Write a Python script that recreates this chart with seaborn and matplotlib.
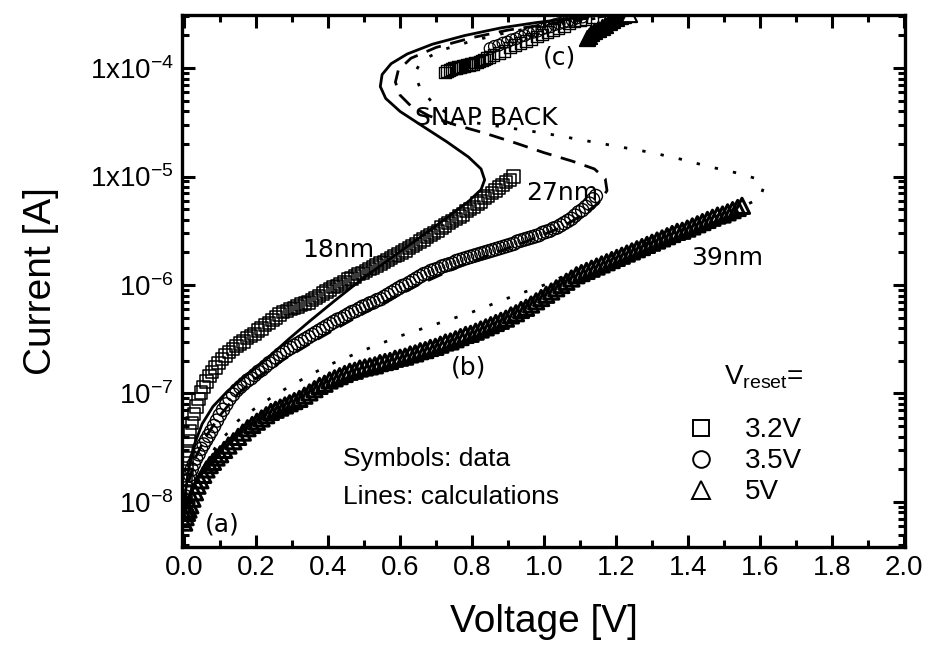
import numpy as np
import matplotlib
matplotlib.use("Agg")
import matplotlib.pyplot as plt
import seaborn as sns
from matplotlib.lines import Line2D
from matplotlib.ticker import LogLocator, FuncFormatter, MultipleLocator, NullFormatter

# ---------------- data (voltage in V, current given as log10 of A) ----------------
# 18 nm cell, V_reset = 3.2 V (squares), low-current branch
sq_v = [0.002, 0.004, 0.006, 0.008, 0.010, 0.013, 0.017, 0.022, 0.028, 0.034, 0.040, 0.047,
        0.054, 0.062, 0.070, 0.078, 0.087, 0.096, 0.105, 0.115, 0.125, 0.135, 0.145, 0.155,
        0.165, 0.175, 0.185, 0.195, 0.205, 0.215, 0.225, 0.235, 0.245, 0.255, 0.265, 0.275,
        0.285, 0.295, 0.305, 0.315, 0.325, 0.335, 0.345, 0.355, 0.365, 0.375, 0.385, 0.395,
        0.405, 0.415, 0.425, 0.435, 0.445, 0.455, 0.465, 0.475, 0.485, 0.495, 0.505, 0.515,
        0.525, 0.535, 0.545, 0.555, 0.565, 0.575, 0.585, 0.595, 0.605, 0.615, 0.625, 0.635,
        0.645, 0.655, 0.665, 0.675, 0.685, 0.695, 0.705, 0.715, 0.725, 0.735, 0.745, 0.755,
        0.765, 0.775, 0.785, 0.795, 0.805, 0.815, 0.825, 0.835, 0.845, 0.855, 0.865, 0.875,
        0.885, 0.895, 0.905, 0.915]
sq_log = [-7.90, -7.80, -7.69, -7.60, -7.53, -7.44, -7.35, -7.27, -7.19, -7.12, -7.05, -6.99,
          -6.94, -6.89, -6.84, -6.80, -6.76, -6.72, -6.68, -6.65, -6.62, -6.59, -6.56, -6.54,
          -6.52, -6.49, -6.47, -6.45, -6.42, -6.40, -6.37, -6.35, -6.32, -6.30, -6.27, -6.25,
          -6.24, -6.22, -6.21, -6.20, -6.18, -6.17, -6.16, -6.14, -6.12, -6.10, -6.08, -6.06,
          -6.04, -6.02, -6.01, -5.99, -5.97, -5.95, -5.94, -5.92, -5.90, -5.89, -5.87, -5.85,
          -5.84, -5.82, -5.80, -5.79, -5.77, -5.75, -5.73, -5.72, -5.70, -5.68, -5.66, -5.64,
          -5.62, -5.60, -5.58, -5.56, -5.54, -5.52, -5.50, -5.47, -5.45, -5.43, -5.41, -5.39,
          -5.37, -5.35, -5.32, -5.30, -5.28, -5.25, -5.23, -5.20, -5.18, -5.15, -5.13, -5.10,
          -5.08, -5.05, -5.03, -5.00]
# squares, high-current branch (c)
sqc_v = [0.725, 0.731, 0.737, 0.743, 0.749, 0.755, 0.761, 0.767, 0.773, 0.779, 0.785, 0.791,
         0.797, 0.803, 0.809, 0.815, 0.821, 0.827, 0.833, 0.840, 0.848, 0.860, 0.875, 0.890,
         0.905, 0.920, 0.935, 0.950, 0.965, 0.980, 0.995, 1.010, 1.025, 1.040, 1.055, 1.070,
         1.085, 1.100, 1.115, 1.135]
sqc_log = [-4.04, -4.03, -4.02, -4.01, -4.00, -4.00, -3.99, -3.99, -3.98, -3.98, -3.97, -3.97,
           -3.96, -3.96, -3.95, -3.95, -3.94, -3.93, -3.92, -3.91, -3.90, -3.88, -3.86, -3.84,
           -3.81, -3.79, -3.77, -3.75, -3.73, -3.71, -3.69, -3.67, -3.65, -3.63, -3.61, -3.59,
           -3.57, -3.56, -3.55, -3.53]

# 27 nm cell, V_reset = 3.5 V (circles)
ci_v = [0.000, 0.004, 0.008, 0.012, 0.016, 0.021, 0.027, 0.033, 0.040, 0.047, 0.054, 0.061,
        0.068, 0.075, 0.083, 0.091, 0.099, 0.108, 0.117, 0.126, 0.136, 0.146, 0.156, 0.166,
        0.176, 0.186, 0.196, 0.206, 0.216, 0.226, 0.236, 0.246, 0.256, 0.266, 0.276, 0.286,
        0.296, 0.306, 0.316, 0.326, 0.336, 0.346, 0.356, 0.366, 0.376, 0.386, 0.396, 0.406,
        0.416, 0.426, 0.436, 0.446, 0.456, 0.466, 0.476, 0.486, 0.496, 0.506, 0.516, 0.526,
        0.536, 0.546, 0.556, 0.566, 0.576, 0.586, 0.596, 0.606, 0.616, 0.626, 0.636, 0.646,
        0.656, 0.666, 0.676, 0.686, 0.696, 0.706, 0.716, 0.726, 0.736, 0.746, 0.756, 0.766,
        0.776, 0.786, 0.796, 0.806, 0.816, 0.826, 0.836, 0.846, 0.856, 0.866, 0.876, 0.886,
        0.896, 0.906, 0.916, 0.926, 0.936, 0.946, 0.956, 0.966, 0.976, 0.986, 0.996, 1.006,
        1.016, 1.026, 1.036, 1.046, 1.056, 1.066, 1.076, 1.086, 1.096, 1.106, 1.116, 1.126,
        1.136, 1.144]
ci_log = [-8.05, -7.95, -7.87, -7.80, -7.75, -7.70, -7.65, -7.60, -7.56, -7.51, -7.47, -7.43,
          -7.39, -7.35, -7.30, -7.25, -7.20, -7.15, -7.10, -7.05, -7.01, -6.97, -6.94, -6.91,
          -6.88, -6.86, -6.83, -6.80, -6.78, -6.75, -6.72, -6.70, -6.67, -6.64, -6.62, -6.60,
          -6.58, -6.56, -6.54, -6.52, -6.50, -6.48, -6.46, -6.44, -6.42, -6.40, -6.38, -6.36,
          -6.34, -6.32, -6.31, -6.29, -6.27, -6.25, -6.24, -6.22, -6.20, -6.19, -6.17, -6.16,
          -6.14, -6.13, -6.11, -6.09, -6.07, -6.05, -6.03, -6.01, -6.00, -5.98, -5.96, -5.94,
          -5.92, -5.90, -5.89, -5.87, -5.86, -5.85, -5.83, -5.82, -5.81, -5.80, -5.78, -5.77,
          -5.76, -5.75, -5.74, -5.73, -5.72, -5.71, -5.70, -5.69, -5.68, -5.67, -5.66, -5.65,
          -5.64, -5.63, -5.62, -5.60, -5.59, -5.58, -5.57, -5.56, -5.55, -5.54, -5.52, -5.51,
          -5.50, -5.48, -5.47, -5.45, -5.43, -5.41, -5.39, -5.36, -5.33, -5.31, -5.28, -5.25,
          -5.21, -5.18]
cic_v = [0.850, 0.862, 0.874, 0.886, 0.898, 0.910, 0.922, 0.934, 0.946, 0.958, 0.970, 0.982,
         0.994, 1.006, 1.018, 1.030, 1.042, 1.054, 1.066, 1.078, 1.090, 1.107]
cic_log = [-3.82, -3.80, -3.79, -3.77, -3.76, -3.74, -3.73, -3.71, -3.70, -3.68, -3.67, -3.66,
           -3.64, -3.63, -3.62, -3.60, -3.59, -3.58, -3.57, -3.56, -3.54, -3.53]

# 39 nm cell, V_reset = 5 V (triangles)
tr_v = [0.000, 0.004, 0.008, 0.012, 0.017, 0.023, 0.030, 0.037, 0.045, 0.053, 0.062, 0.071,
        0.080, 0.090, 0.100, 0.111, 0.123, 0.137, 0.150, 0.163, 0.176, 0.189, 0.202, 0.215,
        0.228, 0.241, 0.254, 0.267, 0.280, 0.293, 0.306, 0.320, 0.334, 0.348, 0.362, 0.376,
        0.390, 0.404, 0.418, 0.432, 0.446, 0.460, 0.474, 0.488, 0.502, 0.516, 0.530, 0.544,
        0.558, 0.572, 0.586, 0.600, 0.614, 0.628, 0.642, 0.656, 0.670, 0.684, 0.698, 0.712,
        0.726, 0.740, 0.754, 0.768, 0.782, 0.796, 0.810, 0.824, 0.838, 0.852, 0.866, 0.880,
        0.894, 0.908, 0.922, 0.936, 0.950, 0.964, 0.978, 0.992, 1.006, 1.020, 1.034, 1.048,
        1.062, 1.076, 1.090, 1.104, 1.118, 1.132, 1.146, 1.160, 1.174, 1.188, 1.202, 1.216,
        1.230, 1.244, 1.258, 1.272, 1.286, 1.300, 1.314, 1.328, 1.342, 1.356, 1.370, 1.384,
        1.398, 1.412, 1.426, 1.440, 1.454, 1.468, 1.482, 1.496, 1.510, 1.524, 1.538, 1.550]
tr_log = [-8.19, -8.14, -8.10, -8.07, -8.03, -7.97, -7.91, -7.85, -7.80, -7.75, -7.70, -7.66,
          -7.63, -7.59, -7.56, -7.52, -7.48, -7.44, -7.40, -7.36, -7.32, -7.29, -7.26, -7.23,
          -7.20, -7.17, -7.15, -7.13, -7.11, -7.09, -7.07, -7.05, -7.02, -6.99, -6.96, -6.93,
          -6.91, -6.88, -6.86, -6.84, -6.82, -6.80, -6.79, -6.77, -6.76, -6.75, -6.74, -6.72,
          -6.71, -6.70, -6.68, -6.67, -6.66, -6.64, -6.63, -6.61, -6.60, -6.58, -6.57, -6.55,
          -6.53, -6.52, -6.50, -6.48, -6.46, -6.45, -6.43, -6.41, -6.39, -6.37, -6.35, -6.33,
          -6.31, -6.28, -6.26, -6.23, -6.21, -6.18, -6.15, -6.12, -6.09, -6.06, -6.03, -6.00,
          -5.97, -5.94, -5.91, -5.89, -5.87, -5.85, -5.83, -5.81, -5.79, -5.77, -5.75, -5.73,
          -5.71, -5.69, -5.67, -5.65, -5.63, -5.61, -5.59, -5.57, -5.55, -5.53, -5.51, -5.50,
          -5.48, -5.46, -5.44, -5.42, -5.40, -5.38, -5.36, -5.35, -5.33, -5.31, -5.29, -5.27]
trc_v = [1.120, 1.125, 1.130, 1.140, 1.150, 1.160, 1.170, 1.180, 1.190, 1.200, 1.210, 1.220, 1.235]
trc_log = [-3.72, -3.70, -3.68, -3.66, -3.64, -3.62, -3.60, -3.58, -3.56, -3.54, -3.52, -3.51, -3.50]

# calculations (lines)
calc18_v = [0.000, 0.010, 0.025, 0.050, 0.080, 0.120, 0.170, 0.230, 0.290, 0.350, 0.420, 0.500,
            0.580, 0.660, 0.730, 0.790, 0.825, 0.835, 0.825, 0.790, 0.730, 0.660, 0.600, 0.560,
            0.545, 0.550, 0.575, 0.620, 0.690, 0.780, 0.880, 0.980, 1.080, 1.180, 1.250]
calc18_log = [-8.00, -7.75, -7.50, -7.28, -7.12, -6.98, -6.84, -6.68, -6.50, -6.33, -6.14, -5.93,
              -5.74, -5.55, -5.38, -5.23, -5.12, -5.03, -4.93, -4.82, -4.68, -4.53, -4.40, -4.28,
              -4.17, -4.06, -3.96, -3.87, -3.78, -3.70, -3.63, -3.58, -3.54, -3.50, -3.47]
calc27_v = [0.000, 0.010, 0.030, 0.060, 0.100, 0.150, 0.200, 0.280, 0.360, 0.450, 0.550, 0.650,
            0.750, 0.850, 0.950, 1.040, 1.100, 1.150, 1.175, 1.170, 1.140, 1.080, 1.000, 0.920,
            0.835, 0.750, 0.680, 0.630, 0.600, 0.587, 0.595, 0.630, 0.700, 0.800, 0.900, 1.000,
            1.100, 1.200]
calc27_log = [-8.05, -7.85, -7.60, -7.40, -7.20, -7.00, -6.86, -6.68, -6.52, -6.35, -6.17, -6.00,
              -5.85, -5.72, -5.60, -5.48, -5.37, -5.25, -5.13, -5.02, -4.93, -4.86, -4.78, -4.69,
              -4.60, -4.52, -4.44, -4.35, -4.25, -4.13, -4.02, -3.91, -3.81, -3.72, -3.65, -3.60,
              -3.55, -3.51]
calc39_v = [0.000, 0.020, 0.050, 0.090, 0.150, 0.200, 0.250, 0.300, 0.400, 0.500, 0.600, 0.700,
            0.800, 0.900, 1.000, 1.100, 1.200, 1.300, 1.400, 1.480, 1.550, 1.600, 1.610, 1.590,
            1.540, 1.460, 1.380, 1.300, 1.200, 1.100, 1.000, 0.900, 0.800, 0.740, 0.690, 0.655,
            0.640, 0.660, 0.720, 0.800, 0.900, 1.000, 1.100, 1.200]
calc39_log = [-8.15, -7.95, -7.70, -7.48, -7.25, -7.13, -7.02, -6.92, -6.74, -6.60, -6.47, -6.36,
              -6.25, -6.12, -6.00, -5.85, -5.71, -5.60, -5.47, -5.37, -5.28, -5.20, -5.10, -5.02,
              -4.97, -4.91, -4.84, -4.78, -4.72, -4.66, -4.60, -4.55, -4.50, -4.44, -4.32, -4.18,
              -4.05, -3.93, -3.83, -3.75, -3.67, -3.61, -3.56, -3.52]

legend_labels = ["3.2V", "3.5V", "5V"]
x_ticks = [0.0, 0.2, 0.4, 0.6, 0.8, 1.0, 1.2, 1.4, 1.6, 1.8, 2.0]


def amps(log_list):
    return np.power(10.0, np.asarray(log_list))


# ---------------- style ----------------
sns.set_theme(style="ticks")
plt.rcParams['font.family'] = ['Liberation Sans', 'DejaVu Sans']
plt.rcParams['mathtext.fontset'] = 'custom'
plt.rcParams['mathtext.rm'] = 'Liberation Sans'
plt.rcParams['mathtext.it'] = 'Liberation Sans:italic'
plt.rcParams['mathtext.bf'] = 'Liberation Sans:bold'
for key in ['text.color', 'axes.labelcolor', 'xtick.color', 'ytick.color', 'axes.edgecolor']:
    plt.rcParams[key] = 'black'

fig = plt.figure(figsize=(9.27, 6.57), dpi=100)
ax = fig.add_axes([182 / 927, 1 - 547 / 657, (905 - 182) / 927, (547 - 15) / 657])
ax.set_yscale('log')

mk = dict(facecolors='none', edgecolor='black', zorder=2, ax=ax, legend=False)
sns.scatterplot(x=sq_v, y=amps(sq_log), marker='s', s=80, linewidth=1.1, **mk)
sns.scatterplot(x=sqc_v, y=amps(sqc_log), marker='s', s=70, linewidth=1.0, **mk)
sns.scatterplot(x=ci_v, y=amps(ci_log), marker='o', s=90, linewidth=1.0, **mk)
sns.scatterplot(x=cic_v, y=amps(cic_log), marker='o', s=70, linewidth=0.9, **mk)
sns.scatterplot(x=tr_v, y=amps(tr_log), marker='^', s=120, linewidth=2.2, **mk)
sns.scatterplot(x=trc_v[:-1], y=amps(trc_log[:-1]), marker='^', s=120, color='black',
                edgecolor='black', linewidth=1.5, zorder=2, ax=ax, legend=False)
sns.scatterplot(x=trc_v[-1:], y=amps(trc_log[-1:]), marker='^', s=120, facecolors='white',
                edgecolor='black', linewidth=1.5, zorder=2, ax=ax, legend=False)

ln = dict(color='black', linewidth=2.0, sort=False, estimator=None, ax=ax, zorder=3)
sns.lineplot(x=calc18_v, y=amps(calc18_log), linestyle='-', **ln)
sns.lineplot(x=calc27_v, y=amps(calc27_log), linestyle=(0, (5.5, 3.5)), **ln)
sns.lineplot(x=calc39_v, y=amps(calc39_log), linestyle=(0, (1.2, 5.5)), **ln)

# axes limits / ticks
ax.set_xlim(-0.006, 2.003)
ax.set_ylim(10 ** -8.415, 10 ** -3.511)
ax.set_xticks(x_ticks)
ax.xaxis.set_minor_locator(MultipleLocator(0.1))
ax.set_xticklabels([f"{t:.1f}" for t in x_ticks])
ax.yaxis.set_major_locator(LogLocator(base=10, numticks=20))
ax.yaxis.set_minor_locator(LogLocator(base=10, subs=np.arange(2, 10), numticks=20))
ax.yaxis.set_minor_formatter(NullFormatter())


def yfmt(val, pos):
    e = int(round(np.log10(val)))
    if e >= -5:
        return r'$\mathregular{1x10^{%d}}$' % e
    return r'$\mathregular{10^{%d}}$' % e


ax.yaxis.set_major_formatter(FuncFormatter(yfmt))
ax.tick_params(which='both', direction='in', top=True, right=True, colors='black',
               labelsize=20, width=2.2)
ax.tick_params(which='major', length=9, pad=6)
ax.tick_params(which='minor', length=5)
for sp in ax.spines.values():
    sp.set_linewidth(2.4)
    sp.set_color('black')

ax.set_xlabel('Voltage [V]', fontsize=28, labelpad=16, color='black')
ax.set_ylabel('Current [A]', fontsize=28, labelpad=22, color='black')

# annotations
ann = dict(family='DejaVu Sans', fontsize=18, color='black', ha='center', va='center', zorder=5)
ax.text(1.044, 10 ** -3.90, '(c)', **ann)
ax.text(0.839, 10 ** -4.46, 'SNAP BACK', **ann)
ax.text(0.428, 10 ** -5.68, '18nm', **ann)
ax.text(1.050, 10 ** -5.15, '27nm', **ann)
ax.text(1.508, 10 ** -5.75, '39nm', **ann)
ax.text(0.789, 10 ** -6.76, '(b)', **ann)
ax.text(0.106, 10 ** -8.21, '(a)', **ann)

ax.text(0.223, 0.165, 'Symbols: data', transform=ax.transAxes, fontsize=19, ha='left',
        va='center', color='black')
ax.text(0.223, 0.094, 'Lines: calculations', transform=ax.transAxes, fontsize=19, ha='left',
        va='center', color='black')

ax.text(0.750, 0.32, r'V$_{\mathregular{reset}}$=', transform=ax.transAxes, fontsize=20,
        ha='left', va='center', color='black')
handles = [
    Line2D([], [], marker='s', ls='none', mfc='none', mec='black', ms=11, mew=1.4),
    Line2D([], [], marker='o', ls='none', mfc='none', mec='black', ms=12, mew=1.4),
    Line2D([], [], marker='^', ls='none', mfc='none', mec='black', ms=13, mew=1.4),
]
leg = ax.legend(handles, legend_labels, loc='upper left', bbox_to_anchor=(0.675, 0.27),
                frameon=False, fontsize=20, borderpad=0, handletextpad=1.0, labelspacing=0.18,
                handlelength=1.2)
for t in leg.get_texts():
    t.set_color('black')

fig.savefig('out.png', dpi=100)
